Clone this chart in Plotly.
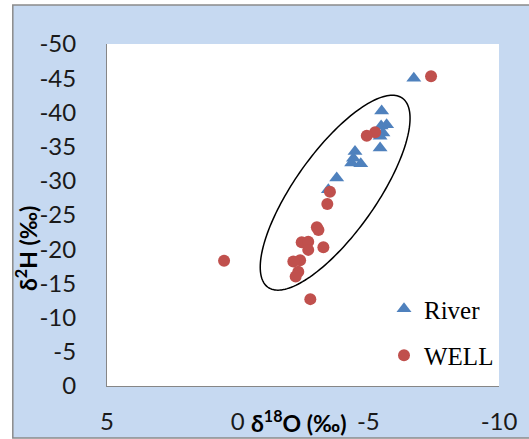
import numpy as np
import plotly.graph_objects as go

# ---- data ----
river_d18O = [-6.74, -5.51, -5.70, -5.49, -5.56, -5.45, -5.45, -4.49, -4.43, -4.36, -4.71, -3.79, -3.47]
river_d2H = [-45.0, -40.2, -38.2, -38.0, -37.0, -36.5, -34.8, -34.3, -33.3, -32.6, -32.5, -30.4, -28.7]

well_d18O = [-7.40, -5.26, -4.94, -3.53, -3.43, -3.03, -3.09, -2.45, -2.70, -2.70, -3.28,
             -2.39, -2.13, -2.32, -2.22, -2.78, 0.52]
well_d2H = [-45.3, -37.1, -36.6, -28.4, -26.6, -23.2, -22.8, -21.0, -21.1, -19.9, -20.3,
            -18.4, -18.2, -16.7, -16.0, -12.7, -18.3]

x_ticks = [5, 0, -5, -10]
y_ticks = [0, -5, -10, -15, -20, -25, -30, -35, -40, -45, -50]

# ---- layout geometry ----
W, H = 529, 439
ML, MR, MT, MB = 107, 30, 44, 53
PW, PH = W - ML - MR, H - MT - MB
XR = [5, -10]
YR = [0, -50]
px_per_x = PW / abs(XR[1] - XR[0])
px_per_y = PH / abs(YR[1] - YR[0])

BLUE = "#4F81BD"
RED = "#C0504D"
BG = "#C6D9F1"
TICKFONT = dict(family="Lato, Carlito, Calibri, sans-serif", size=24, color="#1a1a1a")

fig = go.Figure()
fig.add_trace(go.Scatter(
    x=river_d18O, y=river_d2H, mode="markers", name="River", legendgroup="r",
    marker=dict(symbol="triangle-up", size=13, color=BLUE, line=dict(width=0)),
))
fig.add_trace(go.Scatter(
    x=well_d18O, y=well_d2H, mode="markers", name="WELL", legendgroup="w",
    marker=dict(symbol="circle", size=12, color=RED, line=dict(width=0)),
))

# ---- ellipse (drawn in pixel space, converted to data units) ----
ell_cx, ell_cy = -3.73, -28.26      # centre in data units
ell_a, ell_b, ell_ang = 116, 40.6, np.deg2rad(54.6)  # semi-axes in px, angle
t = np.linspace(0, 2 * np.pi, 181)
dx_px = ell_a * np.cos(t) * np.cos(ell_ang) - ell_b * np.sin(t) * np.sin(ell_ang)
dy_px = ell_a * np.cos(t) * np.sin(ell_ang) + ell_b * np.sin(t) * np.cos(ell_ang)
ex = ell_cx - dx_px / px_per_x
ey = ell_cy - dy_px / px_per_y
path = "M " + " L ".join(f"{a:.4f},{b:.4f}" for a, b in zip(ex, ey)) + " Z"

def px2paper_x(p):
    return (p - ML) / PW

def px2paper_y(p):
    return (H - MB - p) / PH

shapes = [
    # outer chart-area fill with grey frame
    dict(type="rect", xref="paper", yref="paper", layer="below",
         x0=px2paper_x(12.8), x1=px2paper_x(540), y0=px2paper_y(438), y1=px2paper_y(5),
         fillcolor=BG, line=dict(color="#8a8a8a", width=1.5)),
    # white plot area
    dict(type="rect", xref="paper", yref="paper", layer="below",
         x0=0, x1=1, y0=0, y1=1, fillcolor="white", line=dict(width=0)),
    dict(type="path", xref="x", yref="y", path=path, layer="above",
         line=dict(color="black", width=1.5), fillcolor="rgba(0,0,0,0)"),
]

fig.update_layout(
    width=W, height=H,
    margin=dict(l=ML, r=MR, t=MT, b=MB, pad=0),
    paper_bgcolor="white", plot_bgcolor="rgba(0,0,0,0)",
    shapes=shapes,
    showlegend=True,
    legend=dict(
        x=px2paper_x(384), y=px2paper_y(286), xanchor="left", yanchor="top",
        bgcolor="rgba(0,0,0,0)", traceorder="grouped", tracegroupgap=11,
        font=dict(family="Liberation Serif, Times New Roman, serif", size=25, color="black"),
    ),
    xaxis=dict(
        range=XR, tickvals=x_ticks, ticktext=[str(v) for v in x_ticks], automargin=False,
        showgrid=False, zeroline=False, showline=True, linecolor="#868686", linewidth=1,
        ticks="", tickfont=TICKFONT, ticklabelstandoff=14,
    ),
    yaxis=dict(
        range=YR, tickvals=y_ticks, ticktext=[str(v) for v in y_ticks], automargin=False,
        showgrid=False, zeroline=False, showline=True, linecolor="#868686", linewidth=1,
        ticks="", tickfont=TICKFONT, ticklabelstandoff=25,
    ),
    annotations=[
        dict(text="<b>δ<sup>18</sup>O (‰)</b>", xref="paper", yref="paper",
             x=px2paper_x(299), y=px2paper_y(421), xanchor="center", yanchor="middle",
             showarrow=False, font=dict(family="Lato, Carlito, Calibri, sans-serif", size=23, color="black")),
        dict(text="<b>δ<sup>2</sup>H (‰)</b>", xref="paper", yref="paper", textangle=-90,
             x=px2paper_x(27), y=px2paper_y(249), xanchor="center", yanchor="middle",
             showarrow=False, font=dict(family="Lato, Carlito, Calibri, sans-serif", size=23, color="black")),
    ],
)

fig.write_html("out.html")
